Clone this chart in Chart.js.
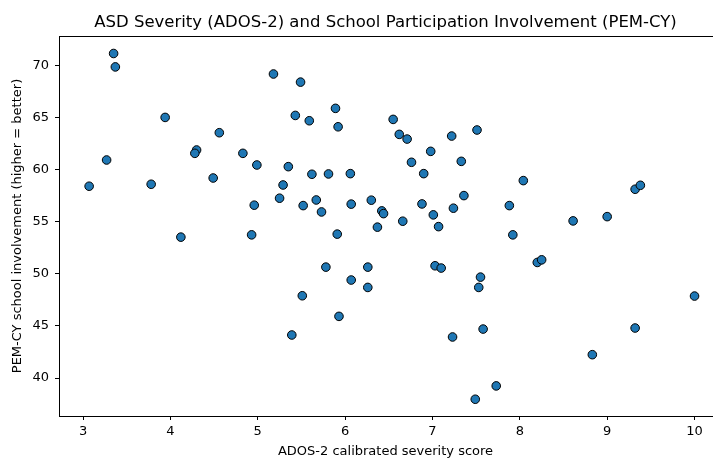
<!DOCTYPE html>
<html>
<head>
<meta charset="utf-8">
<script src="https://cdn.jsdelivr.net/npm/chart.js@4/dist/chart.umd.min.js"></script>
<style>
  html, body { margin: 0; padding: 0; background: #fff; overflow: hidden; }
  #wrap { width: 713px; height: 459px; }
</style>
</head>
<body>
<div id="wrap"><canvas id="c" width="713" height="459"></canvas></div>
<script>
// ADOS-2 calibrated severity score (x) and PEM-CY school involvement (y)
const adosSeverity = [
  3.35, 3.37, 5.18, 3.94, 4.56, 4.30, 4.28, 4.83, 3.27, 4.99,
  4.49, 3.07, 3.78, 4.96, 5.49, 5.89, 5.43, 5.59, 5.92, 6.55,
  6.62, 6.71, 7.22, 7.51, 6.98, 6.76, 7.33, 5.35, 6.90, 5.62,
  5.81, 6.06, 5.29, 7.36, 5.25, 5.67, 6.30, 5.52, 6.07, 6.88,
  7.24, 5.73, 6.42, 6.44, 7.01, 6.66, 6.37, 7.07, 8.04, 7.88,
  9.32, 9.38, 8.61, 9.00, 4.12, 4.93, 5.91, 5.78, 6.26, 7.03,
  7.10, 7.55, 7.53, 6.07, 6.26, 5.51, 5.93, 5.39, 7.23, 7.58,
  7.49, 7.92, 8.20, 8.25, 10.00, 9.32, 8.83, 7.73
];
const pemInvolvement = [
  71.17, 69.88, 69.20, 65.03, 63.56, 61.90, 61.58, 61.58, 60.94, 60.46,
  59.21, 58.42, 58.61, 56.60, 68.42, 65.90, 65.22, 64.71, 64.13, 64.84,
  63.40, 62.95, 63.24, 63.82, 61.77, 60.72, 60.81, 60.30, 59.63, 59.57,
  59.60, 59.63, 58.54, 57.52, 57.27, 57.10, 57.08, 56.56, 56.70, 56.72,
  56.31, 55.95, 56.05, 55.79, 55.67, 55.06, 54.49, 54.54, 58.96, 56.56,
  58.13, 58.51, 55.09, 55.50, 53.53, 53.75, 53.82, 50.65, 50.65, 50.78,
  50.56, 49.69, 48.70, 49.41, 48.70, 47.90, 45.92, 44.13, 43.94, 44.70,
  37.96, 53.75, 51.10, 51.35, 47.87, 44.80, 42.24, 39.24
];
const xTicks = [3, 4, 5, 6, 7, 8, 9, 10];
const yTicks = [40, 45, 50, 55, 60, 65, 70];

const chartTitle = 'ASD Severity (ADOS-2) and School Participation Involvement (PEM-CY)';
const xTitle = 'ADOS-2 calibrated severity score';
const yTitle = 'PEM-CY school involvement (higher = better)';

const points = adosSeverity.map((x, i) => ({ x: x, y: pemInvolvement[i] }));

const topSpine = {
  id: 'topSpine',
  afterDraw(chart) {
    const { ctx, chartArea } = chart;
    ctx.save();
    ctx.strokeStyle = '#000';
    ctx.lineWidth = 1;
    ctx.beginPath();
    ctx.moveTo(chartArea.left, Math.round(chartArea.top) + 0.5);
    ctx.lineTo(chart.width, Math.round(chartArea.top) + 0.5);
    ctx.stroke();
    ctx.restore();
  }
};

const FONT = "'DejaVu Sans', sans-serif";

new Chart(document.getElementById('c'), {
  type: 'scatter',
  data: {
    datasets: [{
      data: points,
      backgroundColor: '#1f77b4',
      borderColor: '#000000',
      borderWidth: 1,
      pointRadius: 4.3,
      pointHoverRadius: 4.3
    }]
  },
  options: {
    responsive: false,
    animation: false,
    devicePixelRatio: 1,
    layout: { autoPadding: false, padding: { left: 0, right: 1, top: 0, bottom: 0 } },
    plugins: {
      legend: { display: false },
      tooltip: { enabled: false },
      title: {
        display: true,
        text: chartTitle,
        fullSize: false,
        color: '#000',
        font: { family: FONT, size: 16.5, weight: 'normal' },
        padding: { top: 13, bottom: 3.2 }
      }
    },
    scales: {
      x: {
        type: 'linear',
        min: 2.725,
        max: 10.2,
        afterFit(s) { s.height = 43; s.paddingLeft = 0; s.paddingRight = 0; },
        afterBuildTicks(s) { s.ticks = xTicks.map(v => ({ value: v })); },
        ticks: {
          color: '#000',
          font: { family: FONT, size: 13 },
          padding: 4,
          maxRotation: 0,
          callback: v => String(v)
        },
        grid: { drawOnChartArea: false, drawTicks: true, tickLength: 4, color: '#000' },
        border: { display: true, color: '#000', width: 1 },
        title: {
          display: true,
          text: xTitle,
          color: '#000',
          font: { family: FONT, size: 13 },
          padding: { top: 0, bottom: 0 }
        }
      },
      y: {
        type: 'linear',
        min: 36.35,
        max: 72.85,
        afterFit(s) { s.width = 59; s.paddingTop = 0; s.paddingBottom = 0; },
        afterBuildTicks(s) { s.ticks = yTicks.map(v => ({ value: v })); },
        ticks: {
          color: '#000',
          font: { family: FONT, size: 13 },
          padding: 6,
          callback: v => String(v)
        },
        grid: { drawOnChartArea: false, drawTicks: true, tickLength: 4, color: '#000' },
        border: { display: true, color: '#000', width: 1 },
        title: {
          display: true,
          text: yTitle,
          color: '#000',
          font: { family: FONT, size: 13 },
          padding: { top: 10, bottom: 0 }
        }
      }
    }
  },
  plugins: [topSpine]
});
</script>
</body>
</html>
